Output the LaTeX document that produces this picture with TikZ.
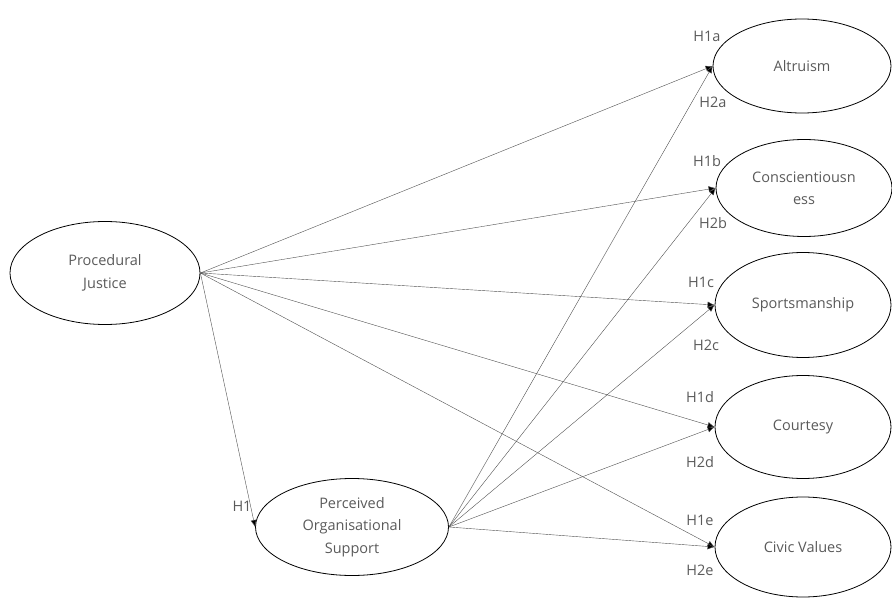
\documentclass[tikz,border=0pt]{standalone}
\usepackage{fontspec}
\setmainfont{Open Sans}
\usetikzlibrary{shapes.geometric,arrows.meta}
\definecolor{txt}{HTML}{5A5A5A}
\definecolor{ln}{HTML}{505050}
\begin{document}
\begin{tikzpicture}[x=1pt,y=-1pt,
  construct/.style={ellipse,draw=black,line width=0.8pt,inner sep=0pt,
    text=txt,align=center,font=\fontsize{14.5}{22.5}\selectfont},
  hyp/.style={text=txt,inner sep=0pt,font=\fontsize{14.5}{16}\selectfont},
  path/.style={draw=ln,line width=0.4pt,-{Latex[length=7pt,width=6pt,fill=black]}}]
\useasboundingbox (0,0) rectangle (892,599);
\node[construct,minimum width=190,minimum height=103] (pj) at (105,273) {Procedural\\Justice};
\node[construct,minimum width=193,minimum height=97] (pos) at (352,527) {Perceived\\Organisational\\Support};
\node[construct,minimum width=178,minimum height=94] (alt) at (802,66) {Altruism};
\node[construct,minimum width=176,minimum height=97] (con) at (804,188) {Conscientiousn\\ess};
\node[construct,minimum width=176,minimum height=105] (spo) at (803,305) {Sportsmanship};
\node[construct,minimum width=176,minimum height=103] (cou) at (803,427) {Courtesy};
\node[construct,minimum width=176,minimum height=100] (civ) at (803,547) {Civic Values};
\foreach \t in {alt,con,spo,cou,civ}{
  \draw[path] (pj.east) -- (\t.west);
  \draw[path] (pos.east) -- (\t.west);
}
\draw[path] (pj.east) -- (pos.west);
\node[hyp] (h1) at (242,506) {H1};
\node[hyp] (h1a) at (707,36) {H1a};
\node[hyp] (h2a) at (713,102) {H2a};
\node[hyp] (h1b) at (707,161) {H1b};
\node[hyp] (h2b) at (713,223) {H2b};
\node[hyp] (h1c) at (701,282) {H1c};
\node[hyp] (h2c) at (706,345) {H2c};
\node[hyp] (h1d) at (700,397) {H1d};
\node[hyp] (h2d) at (700,462) {H2d};
\node[hyp] (h1e) at (700,520) {H1e};
\node[hyp] (h2e) at (700,570) {H2e};
\end{tikzpicture}
\end{document}
